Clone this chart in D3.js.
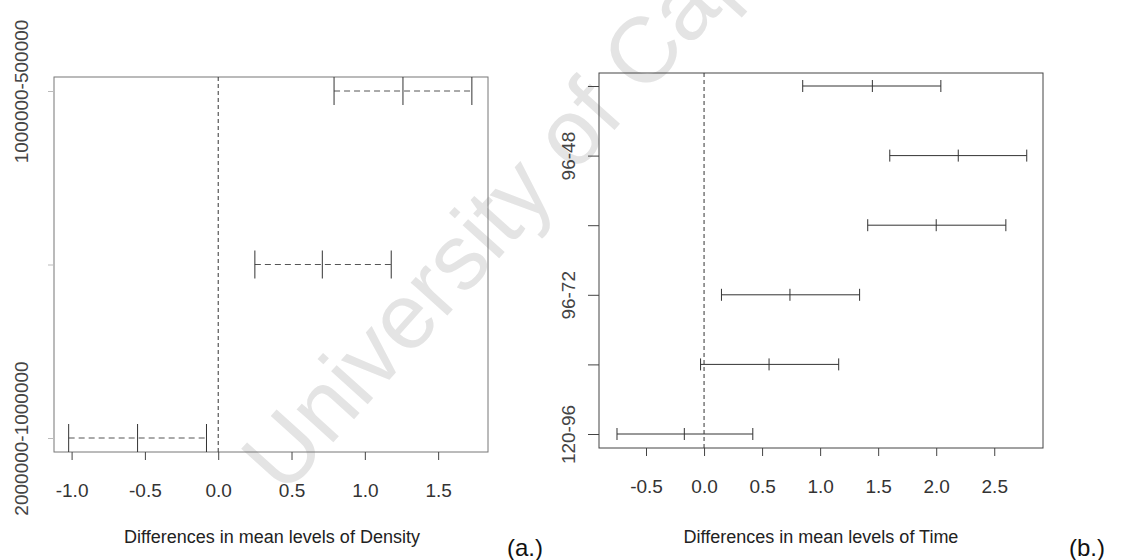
<!DOCTYPE html>
<html>
  <head>
    <script src="https://d3js.org/d3.v7.min.js" charset="utf-8"></script>
    <style>
      body { margin: 0; background: #fff; }
      text { font-family: "Liberation Sans", Arial, sans-serif; }
    </style>
  </head>
  <body>
    <svg id="chart"></svg>
    <script>
      // panel (a): Tukey HSD, Density
      const densityComparisons = ["1000000-500000", "2000000-500000", "2000000-1000000"];
      const densityShown = ["1000000-500000", "2000000-1000000"];
      const densityDiff = [1.26, 0.71, -0.55];
      const densityLwr = [0.79, 0.25, -1.02];
      const densityUpr = [1.73, 1.18, -0.08];
      const densityTicks = [-1.0, -0.5, 0.0, 0.5, 1.0, 1.5];

      // panel (b): Tukey HSD, Time
      const timeComparisons = ["72-48", "96-48", "120-48", "96-72", "120-72", "120-96"];
      const timeShown = ["96-48", "96-72", "120-96"];
      const timeDiff = [1.45, 2.19, 2.00, 0.74, 0.56, -0.17];
      const timeLwr = [0.85, 1.60, 1.41, 0.15, -0.03, -0.75];
      const timeUpr = [2.04, 2.78, 2.60, 1.34, 1.16, 0.42];
      const timeTicks = [-0.5, 0.0, 0.5, 1.0, 1.5, 2.0, 2.5];

      const W = 1123, H = 560;
      const svg = d3.select("#chart").attr("width", W).attr("height", H);

      // watermark of the scanned page
      svg.append("text")
        .attr("transform", "translate(284,497) rotate(-48)")
        .attr("font-size", 93)
        .attr("fill", "#e4e4e4")
        .text("University of Cape Town");

      function panel(cfg) {
        const g = svg.append("g");
        const x = d3.scaleLinear().domain(cfg.xDomain).range([cfg.left, cfg.right]);
        const y = d3.scalePoint().domain(cfg.cats).range([cfg.rowTop, cfg.rowBottom]);

        const rows = cfg.cats.map((c, i) => ({c: c, diff: cfg.diff[i], lwr: cfg.lwr[i], upr: cfg.upr[i]}));

        // frame
        g.append("rect")
          .attr("x", cfg.left).attr("y", cfg.top)
          .attr("width", cfg.right - cfg.left).attr("height", cfg.bottom - cfg.top)
          .attr("fill", "none").attr("stroke", cfg.frameColor).attr("stroke-width", 1);

        // x axis
        const xAxis = d3.axisBottom(x).tickValues(cfg.ticks)
          .tickFormat(d => d.toFixed(1))
          .tickSize(8).tickSizeOuter(0).tickPadding(24);
        const xg = g.append("g").attr("transform", `translate(0,${cfg.bottom})`).call(xAxis);
        xg.select(".domain").remove();
        xg.selectAll(".tick line").attr("stroke", "#444");
        xg.selectAll(".tick text").attr("font-size", 19).attr("fill", "#333")
          .attr("font-family", '"Liberation Sans", Arial, sans-serif');

        // y axis
        const yAxis = d3.axisLeft(y).tickSize(cfg.yTick).tickSizeOuter(0)
          .tickFormat(d => cfg.shown.includes(d) ? d : "");
        const yg = g.append("g").attr("transform", `translate(${cfg.left},0)`).call(yAxis);
        yg.select(".domain").remove();
        yg.selectAll(".tick line").attr("stroke", cfg.yTickColor);
        yg.selectAll(".tick text")
          .attr("transform", "rotate(-90)")
          .attr("x", 0).attr("y", -cfg.yLabelGap).attr("dy", 0)
          .attr("text-anchor", "middle")
          .attr("font-size", 19).attr("fill", "#444")
          .attr("font-family", '"Liberation Sans", Arial, sans-serif');

        // zero reference line
        g.append("line")
          .attr("x1", x(0)).attr("x2", x(0))
          .attr("y1", cfg.top).attr("y2", cfg.bottom)
          .attr("stroke", "#333").attr("stroke-dasharray", "4,3");

        // intervals
        const iv = g.append("g").selectAll("g").data(rows).join("g");
        iv.append("line")
          .attr("x1", d => x(d.lwr)).attr("x2", d => x(d.upr))
          .attr("y1", d => y(d.c)).attr("y2", d => y(d.c))
          .attr("stroke", cfg.ivColor).attr("stroke-dasharray", cfg.ivDash);
        ["lwr", "diff", "upr"].forEach(k => {
          iv.append("line")
            .attr("x1", d => x(d[k])).attr("x2", d => x(d[k]))
            .attr("y1", d => y(d.c) - cfg.cap).attr("y2", d => y(d.c) + cfg.cap)
            .attr("stroke", "#333");
        });

        // axis title
        svg.append("text")
          .attr("x", cfg.titleX).attr("y", 543)
          .attr("text-anchor", "middle").attr("font-size", 18).attr("fill", "#222")
          .text(cfg.title);

        svg.append("text")
          .attr("x", cfg.tagX).attr("y", 556)
          .attr("font-family", '"Liberation Serif", "Times New Roman", serif')
          .attr("font-size", 24).attr("fill", "#111")
          .text(cfg.tag);
      }

      panel({
        cats: densityComparisons, shown: densityShown,
        diff: densityDiff, lwr: densityLwr, upr: densityUpr, ticks: densityTicks,
        xDomain: [-1.12, 1.84], left: 54, right: 488, top: 77, bottom: 452,
        rowTop: 91, rowBottom: 438, cap: 14, yTick: 6, yLabelGap: 26,
        frameColor: "#777", yTickColor: "#bbb", ivColor: "#555", ivDash: "6,4",
        title: "Differences in mean levels of Density", titleX: 272,
        tag: "(a.)", tagX: 507
      });

      panel({
        cats: timeComparisons, shown: timeShown,
        diff: timeDiff, lwr: timeLwr, upr: timeUpr, ticks: timeTicks,
        xDomain: [-0.905, 2.92], left: 599, right: 1043, top: 73, bottom: 448,
        rowTop: 86, rowBottom: 434, cap: 6, yTick: 11, yLabelGap: 24,
        frameColor: "#444", yTickColor: "#444", ivColor: "#333", ivDash: null,
        title: "Differences in mean levels of Time", titleX: 821,
        tag: "(b.)", tagX: 1069
      });
    </script>
  </body>
</html>
